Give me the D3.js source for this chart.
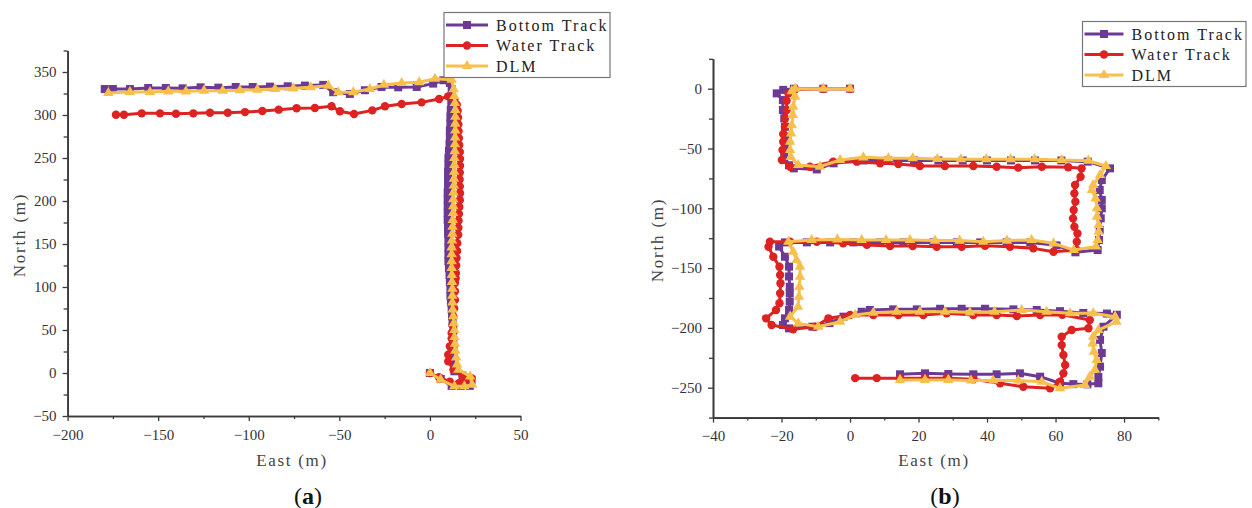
<!DOCTYPE html>
<html>
<head>
<meta charset="utf-8">
<style>
  body { margin: 0; background: #fff; }
  svg { display: block; }
  text { font-family: "Liberation Serif", "DejaVu Serif", serif; }
</style>
</head>
<body>
<script src="https://d3js.org/d3.v7.min.js"></script>
<div id="chart"></div>
<script>
// ---- data (East, North in metres) ----
var seriesNames = ["Bottom Track", "Water Track", "DLM"];
var seriesColors = ["#6c3a94", "#dd2222", "#f7bf4c"];

// panel (a)
var bottomTrackA = [[0,0],[6,-7],[12,-15],[17,-15],[22,-15],[23,-8],[18,-3],[13.5,2],[13.5,10],[13.2,18],[13,26],[12.9,34],[12.8,42],[12.9,50],[12.5,58],[12.2,66],[12,74],[11.6,82],[11.3,90],[11.3,98],[11,106],[10.8,114],[10.5,122],[10.2,130],[10.2,138],[10.2,146],[10.2,154],[10,162],[10,170],[9.8,178],[9.8,186],[9.8,194],[9.8,202],[9.8,210],[10,218],[10,226],[10,234],[10.2,242],[10.2,250],[10.5,258],[10.8,266],[11,274],[11,282],[11.3,290],[11.3,298],[11.5,306],[11.8,314],[12,322],[12,330],[11,337.3],[7.4,340.4],[1.8,336.5],[-7.3,332.6],[-17.5,332.2],[-26.7,332.6],[-35.9,328.8],[-44.2,324.5],[-53.4,326.5],[-58.9,335],[-69,334.2],[-78.5,333.4],[-88.3,333],[-97.8,332.6],[-107.2,332.6],[-116.8,331.8],[-126.6,332.2],[-136.5,331],[-145.8,331.4],[-155.5,331.4],[-165.6,330.2],[-175,330.2],[-179.5,330.2]];
var waterTrackA = [[0,0],[5,-5],[11,-10],[16,-12],[19,-10],[23,-6],[18,-3],[13,3.8],[10.1,13.5],[10.1,21.3],[11,31],[12,40],[12,46.5],[12.5,56],[12.9,65.8],[13.4,75],[13.8,85],[13.8,95],[13.8,104.7],[14.2,110],[14.3,116],[14.5,125],[14.7,133.7],[15,142],[15.1,151],[15.6,160.8],[15.7,169],[15.8,177],[16,185],[16.2,193],[16.5,201],[16.6,209],[16.5,217],[16.4,225],[16.5,233],[16.6,241],[16.6,249],[16.5,257],[16.2,265],[16,273],[15.8,281],[15.7,289],[15.5,297],[15.3,305],[14.8,312],[13.5,318],[10.1,321.7],[5.1,318.6],[-4.6,314.7],[-15.6,312.8],[-24.8,310.1],[-31.8,305.4],[-41.9,301.2],[-49.7,304.3],[-54.3,310.1],[-63.5,308.1],[-73.6,307.8],[-83.5,306.2],[-92.5,304.6],[-102.1,303.4],[-111.6,302.6],[-121.4,302.6],[-130.6,301.9],[-140.2,301.5],[-149,301.9],[-159.1,301.9],[-168.9,300.3],[-173.3,300.3]];
var dlmA = [[0,0],[5.9,-7.7],[13.5,-15.5],[19,-15.5],[23.3,-13.5],[22.2,-3.9],[15.7,3.9],[15,10],[14.5,18],[14,26],[13.8,34],[13.6,42],[13.5,50],[13.2,58],[12.9,66],[12.6,74],[12.4,82],[12.4,90],[12.4,98],[12.2,106],[12.1,114],[12,122],[12,130],[12,138],[12,146],[12.2,154],[12.4,162],[12.5,170],[12.6,178],[12.8,186],[12.9,194],[12.9,202],[13,210],[13.2,218],[13.3,226],[13.4,234],[13.5,242],[13.5,250],[13.7,258],[13.8,266],[13.9,274],[14,282],[14,290],[14,298],[14,306],[13.8,314],[13.5,322],[13.1,330],[12,341],[2.8,342.2],[-5.9,338],[-15.6,337.2],[-25.4,335.2],[-33.1,330.2],[-42.3,326.5],[-50.6,326.5],[-56.1,334.1],[-65.8,332.2],[-75.4,331],[-85.5,330.2],[-95.3,329.5],[-104.9,328.7],[-114.4,328.3],[-124.7,328.3],[-134.7,327.5],[-144.4,327.5],[-154.5,326.7],[-165.6,326.7],[-177.5,325.6]];

// panel (b)
var bottomTrackB = [[0,0],[-7.8,0],[-16.4,0],[-19.5,-1],[-21.4,-3.9],[-19.6,-9.5],[-19.6,-17.8],[-19.2,-24.8],[-19,-31.8],[-19,-40],[-19,-48.5],[-19.2,-57],[-17.8,-64],[-16.4,-66.6],[-9.7,-67.5],[-4.8,-62.4],[4,-60],[11.1,-60],[18.7,-60],[25.8,-60],[32.9,-60],[40,-60],[47,-60],[54,-60],[61.7,-60],[69.4,-61],[75.9,-66.6],[73.5,-76.4],[72.9,-84.7],[73.5,-93],[73.5,-100],[73.2,-108.4],[72.9,-118],[72.7,-126.5],[72.3,-134.9],[65.8,-136.8],[60.3,-131],[52.6,-128.5],[45.7,-128.5],[38,-128.5],[31.2,-128.5],[24.3,-128.5],[15.6,-128.5],[8.8,-128.5],[1,-128.5],[-5.8,-128.5],[-12.6,-128.5],[-19,-128.5],[-20.7,-132],[-19,-140.5],[-17.8,-148.8],[-17.8,-157],[-17.6,-165.6],[-17.6,-171],[-17.6,-178],[-17.8,-185],[-19,-192],[-19.6,-197.6],[-17.8,-200.4],[-11,-199],[-6,-196],[-1.9,-190.6],[3.4,-186.5],[5.8,-185],[12.6,-184.5],[19.5,-184.5],[26.3,-184],[32.6,-184],[39.4,-184],[47.7,-184.5],[54.5,-185],[61.3,-186],[68.1,-187.5],[75,-188],[77.9,-189],[74,-199],[73,-210],[73.5,-221],[73,-232.4],[72.5,-241],[72.5,-246.3],[69.3,-247.2],[65.2,-247],[61.3,-246.3],[55.5,-240.8],[49.6,-238],[42.8,-238.8],[36,-238.8],[28.7,-238.5],[21.9,-238],[14.6,-238.8]];
var waterTrackB = [[0,0],[-7.8,0],[-16,-0.5],[-18,-3.9],[-18.5,-10],[-18.5,-17.8],[-19,-25],[-19,-31.8],[-19.5,-38],[-19.5,-44.3],[-19.7,-51.3],[-19.9,-59.6],[-17.5,-65.2],[-11.7,-65.2],[-4.9,-61],[2,-61],[8.8,-62.4],[14.1,-62.9],[20.4,-64.6],[27.7,-64.6],[36,-64.6],[42.8,-65.2],[49.1,-66],[56,-65.2],[63.7,-65.7],[67.6,-66.6],[67.3,-73.6],[65.7,-80.5],[65.5,-87.5],[65.8,-94.5],[65.3,-101.4],[65.1,-108.4],[65.5,-115.4],[66.4,-121],[66.2,-128],[66.2,-134.9],[59.4,-136.3],[53.5,-133.5],[46.7,-132.1],[39.4,-131.3],[32.6,-132.1],[25.3,-132.1],[18.3,-131.5],[11.7,-131.5],[4.9,-130.6],[-2,-129.3],[-9.7,-128],[-17.5,-128],[-23.4,-128],[-23.8,-132.1],[-22.4,-140.5],[-20.6,-148.8],[-20.4,-155.8],[-20.3,-162.7],[-20.4,-171.1],[-20.6,-179.4],[-21.6,-185],[-24.5,-192],[-22.9,-197.6],[-16.6,-201.2],[-10.2,-199],[-6.3,-192],[0,-189.2],[6.8,-189.2],[14.1,-189.2],[21.4,-189.2],[28.2,-187.8],[36,-189.2],[42.8,-189.2],[48.7,-190],[55.5,-189.2],[62,-189],[70,-193.4],[69.6,-200.3],[64.7,-201.8],[61.8,-207.4],[61.8,-214.4],[62.3,-222.7],[62.8,-231],[62.3,-238],[61.3,-245],[58.4,-250.5],[50.6,-249.2],[43.8,-246.3],[36,-243],[28.2,-242],[21.9,-242],[14.6,-242],[7.8,-242],[1.5,-242]];
var dlmB = [[0,0],[-7.8,0],[-16,0],[-17,-2],[-16,-6.7],[-16.6,-15],[-16.7,-22],[-17,-30.4],[-17.2,-37.4],[-17.5,-44.3],[-17.5,-51.3],[-17.3,-57],[-15.1,-63.8],[-8.8,-65.2],[-2.9,-59.6],[3.9,-57.4],[11.2,-58.2],[18.3,-58.2],[25.5,-58.8],[32.4,-59],[39.8,-59],[46.9,-59],[53.9,-59],[61.8,-59.6],[69.6,-60.2],[74.7,-64.6],[73,-72.2],[71,-80.5],[70.6,-84.7],[71.7,-91.7],[72.1,-100],[72.1,-107],[72.6,-114],[72.6,-119.6],[72.3,-126.5],[71.8,-132],[65.3,-134.9],[59.4,-129.3],[53,-126.5],[45.8,-127],[38.9,-128],[32,-127],[24.8,-127],[17.5,-126.5],[10.5,-126.5],[3.4,-126.5],[-3.7,-126],[-11.2,-126.5],[-18,-128],[-16.6,-136.3],[-15.6,-143.2],[-14.6,-148.8],[-14.6,-157.2],[-14.8,-165.6],[-14.9,-174],[-15.2,-182.3],[-17.5,-190.6],[-15.1,-196.2],[-9.3,-199],[-2.9,-194.8],[1.5,-189.2],[6.8,-187.3],[13.6,-186.5],[20.4,-186.5],[27.7,-186.5],[35,-187],[42.2,-186.5],[50.1,-185],[57.4,-186.5],[64.2,-187.8],[71,-187.8],[77.4,-190.6],[77.8,-194.8],[72.5,-201.8],[71,-207.4],[70.8,-213],[71.2,-219.9],[72,-226.8],[71.5,-235],[70,-240.8],[68.6,-247.7],[61.3,-250.5],[56,-245],[49.1,-244],[41.8,-244],[35.3,-244],[28.7,-243.5],[21.9,-243.5],[14.6,-243.5]];

// ticks
var xTicksA = [-200, -150, -100, -50, 0, 50];
var yTicksA = [-50, 0, 50, 100, 150, 200, 250, 300, 350];
var xTicksB = [-40, -20, 0, 20, 40, 60, 80];
var yTicksB = [-250, -200, -150, -100, -50, 0];

var svg = d3.select("#chart").append("svg")
    .attr("width", 1252)
    .attr("height", 508);

function minorTicks(major, domain) {
    var step = major[1] - major[0], out = [];
    for (var v = major[0] - step / 2; v <= domain[1]; v += step) {
        if (v >= domain[0] && major.indexOf(v) < 0) out.push(v);
    }
    return out;
}

function drawPanel(p) {
    var x = d3.scaleLinear().domain(p.xDomain).range(p.xRange);
    var y = d3.scaleLinear().domain(p.yDomain).range(p.yRange);
    var g = svg.append("g");

    // series lines + markers
    var line = d3.line().x(function (d) { return x(d[0]); }).y(function (d) { return y(d[1]); });
    p.series.forEach(function (s, i) {
        g.append("path")
            .datum(s)
            .attr("fill", "none")
            .attr("stroke", seriesColors[i])
            .attr("stroke-width", 3)
            .attr("stroke-linejoin", "round")
            .attr("d", line);
        drawMarkers(g, s, i, x, y);
    });

    // axes
    var xAxis = g.append("g").attr("transform", "translate(0," + p.yRange[0] + ")");
    xAxis.append("g").call(d3.axisBottom(x).tickValues(minorTicks(p.xTicks, p.xDomain)).tickSize(3).tickSizeOuter(0).tickFormat(""));
    xAxis.append("g").call(d3.axisBottom(x).tickValues(p.xTicks).tickSize(5).tickSizeOuter(0).tickPadding(8));
    var yAxis = g.append("g").attr("transform", "translate(" + p.xRange[0] + ",0)");
    yAxis.append("g").call(d3.axisLeft(y).tickValues(minorTicks(p.yTicks, p.yDomain)).tickSize(4).tickSizeOuter(0).tickFormat(""));
    yAxis.append("g").call(d3.axisLeft(y).tickValues(p.yTicks).tickSize(5).tickSizeOuter(0).tickPadding(6));
    g.selectAll(".domain").attr("stroke", "#3a3a3a").attr("stroke-width", 1.6);
    g.selectAll(".tick line").attr("stroke", "#3a3a3a").attr("stroke-width", 1.3);
    g.selectAll(".tick text")
        .attr("font-family", "Liberation Serif")
        .attr("font-size", 15)
        .attr("fill", "#333");

    // axis titles
    g.append("text")
        .attr("x", p.xTitle[0]).attr("y", p.xTitle[1])
        .attr("text-anchor", "middle")
        .attr("font-size", 17).attr("letter-spacing", 1.7)
        .attr("fill", "#444")
        .text("East (m)");
    g.append("text")
        .attr("transform", "translate(" + p.yTitle[0] + "," + p.yTitle[1] + ") rotate(-90)")
        .attr("text-anchor", "middle")
        .attr("font-size", 17).attr("letter-spacing", 1.8)
        .attr("fill", "#444")
        .text("North (m)");

    // caption
    var cap = g.append("text")
        .attr("x", p.caption[0]).attr("y", p.caption[1])
        .attr("text-anchor", "middle")
        .attr("font-size", 24)
        .attr("fill", "#111");
    cap.append("tspan").text("(");
    cap.append("tspan").attr("font-weight", "bold").text(p.label);
    cap.append("tspan").text(")");

    // legend
    var lg = g.append("g").attr("transform", "translate(" + p.legend[0] + "," + p.legend[1] + ")");
    lg.append("rect")
        .attr("x", 0).attr("y", 0)
        .attr("width", p.legend[2]).attr("height", 65)
        .attr("fill", "#fff")
        .attr("stroke", "#777")
        .attr("stroke-width", 1.2);
    seriesNames.forEach(function (name, i) {
        var cy = 12.5 + i * 20.5;
        lg.append("line")
            .attr("x1", 2).attr("x2", p.legend[3])
            .attr("y1", cy).attr("y2", cy)
            .attr("stroke", seriesColors[i])
            .attr("stroke-width", 3);
        drawMarkers(lg, [[p.legend[3] / 2 + 1, cy]], i, function (v) { return v; }, function (v) { return v; });
        lg.append("text")
            .attr("x", p.legend[3] + 8).attr("y", cy + 5.5)
            .attr("font-size", 16).attr("letter-spacing", 2)
            .attr("fill", "#222")
            .text(name);
    });
}

function drawMarkers(g, data, i, x, y) {
    var col = seriesColors[i];
    if (i === 0) {
        g.selectAll(null).data(data).enter().append("rect")
            .attr("x", function (d) { return x(d[0]) - 4; })
            .attr("y", function (d) { return y(d[1]) - 4; })
            .attr("width", 8).attr("height", 8)
            .attr("fill", col);
    } else if (i === 1) {
        g.selectAll(null).data(data).enter().append("circle")
            .attr("cx", function (d) { return x(d[0]); })
            .attr("cy", function (d) { return y(d[1]); })
            .attr("r", 4.2)
            .attr("fill", col);
    } else {
        var tri = d3.symbol().type(d3.symbolTriangle).size(48);
        g.selectAll(null).data(data).enter().append("path")
            .attr("transform", function (d) { return "translate(" + x(d[0]) + "," + y(d[1]) + ")"; })
            .attr("d", tri)
            .attr("fill", col);
    }
}

drawPanel({
    series: [bottomTrackA, waterTrackA, dlmA],
    xDomain: [-200, 50], xRange: [67.6, 520.5],
    yDomain: [-50, 375], yRange: [416, 50.5],
    xTicks: xTicksA, yTicks: yTicksA,
    xTitle: [292, 466], yTitle: [25, 235],
    caption: [308, 504], label: "a",
    legend: [444, 12.5, 166, 44]
});

drawPanel({
    series: [bottomTrackB, waterTrackB, dlmB],
    xDomain: [-40, 90], xRange: [713, 1158.3],
    yDomain: [-275, 25], yRange: [417.6, 58.8],
    xTicks: xTicksB, yTicks: yTicksB,
    xTitle: [934, 466], yTitle: [663, 240],
    caption: [945, 504], label: "b",
    legend: [1082.5, 21.5, 163.5, 41]
});
</script>
</body>
</html>
